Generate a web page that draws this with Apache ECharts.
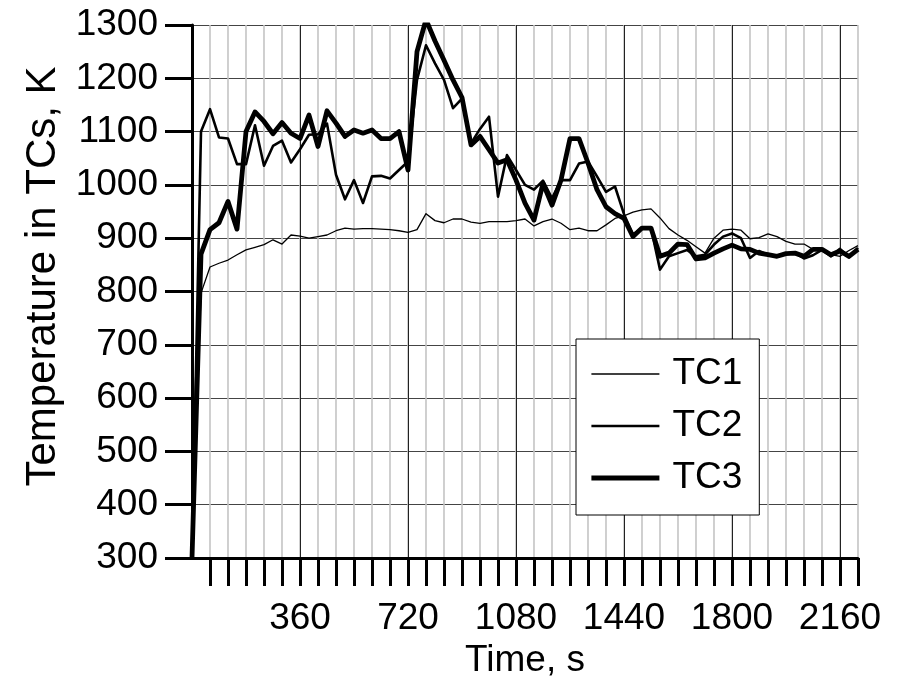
<!DOCTYPE html>
<html>
<head>
<meta charset="utf-8">
<script src="https://cdn.jsdelivr.net/npm/echarts@6/dist/echarts.min.js"></script>
<style>
  html, body { margin: 0; padding: 0; background: #fff; }
  #chart { width: 898px; height: 689px; }
</style>
</head>
<body>
<div id="chart"></div>
<script>
// Sampling times, s (every 30 s)
const times = [
  0, 30, 60, 90, 120, 150, 180, 210, 240, 270, 300, 330, 360, 390, 420, 450, 480, 510, 540, 570,
  600, 630, 660, 690, 720, 750, 780, 810, 840, 870, 900, 930, 960, 990, 1020, 1050, 1080, 1110, 1140, 1170,
  1200, 1230, 1260, 1290, 1320, 1350, 1380, 1410, 1440, 1470, 1500, 1530, 1560, 1590, 1620, 1650, 1680, 1710, 1740, 1770,
  1800, 1830, 1860, 1890, 1920, 1950, 1980, 2010, 2040, 2070, 2100, 2130, 2160, 2190, 2220
];

// Thermocouple readings, K
const tc1 = [
  300, 797, 846, 853, 859, 869, 878, 883, 888, 897, 889, 906, 904, 900, 903, 906, 914, 919, 917, 918,
  918, 917, 916, 914, 911, 916, 946, 933, 929, 936, 936, 930, 928, 931, 931, 931, 933, 936, 923, 931,
  936, 928, 916, 919, 914, 914, 925, 937, 942, 949, 953, 955, 938, 918, 906, 896, 884, 872, 900, 915,
  917, 915, 899, 901, 908, 903, 894, 889, 889, 879, 879, 869, 866, 877, 886
];
const tc2 = [
  300, 1100, 1142, 1089, 1087, 1039, 1039, 1112, 1036, 1073, 1083, 1042, 1067, 1094, 1095, 1115, 1019, 973, 1009, 966,
  1016, 1017, 1012, 1028, 1044, 1197, 1262, 1228, 1197, 1144, 1162, 1078, 1105, 1128, 978, 1056, 1028, 1000, 991, 1008,
  975, 1009, 1009, 1040, 1044, 1016, 987, 997, 945, 907, 919, 919, 841, 866, 872, 878, 866, 869, 888, 903,
  909, 900, 863, 876, 869, 866, 871, 872, 862, 868, 878, 866, 880, 864, 882
];
const tc3 = [
  300, 870, 916, 929, 969, 917, 1100, 1137, 1119, 1096, 1117, 1097, 1087, 1131, 1072, 1139, 1116, 1091, 1103, 1097,
  1103, 1087, 1087, 1100, 1028, 1250, 1310, 1270, 1234, 1197, 1164, 1075, 1091, 1066, 1041, 1047, 1009, 966, 934, 1003,
  962, 1009, 1087, 1087, 1041, 991, 959, 946, 937, 903, 919, 919, 866, 872, 889, 888, 861, 863, 872, 880,
  887, 880, 879, 872, 869, 866, 871, 872, 866, 879, 879, 869, 876, 866, 879
];

const seriesNames = ['TC1', 'TC2', 'TC3'];
const seriesValues = [tc1, tc2, tc3];
const seriesWidths = [1.3, 2.6, 4.8];

// Labelled time ticks, s
const timeLabels = [360, 720, 1080, 1440, 1800, 2160];

// Tick marks below the time axis every 60 s (none at the origin)
const timeTicks = [];
for (let t = 60; t <= 2220; t += 60) timeTicks.push(t);

const FONT = '"Liberation Sans", Arial, sans-serif';

const chart = echarts.init(document.getElementById('chart'));

const series = seriesNames.map((name, k) => ({
  name: name,
  type: 'line',
  xAxisIndex: 0,
  yAxisIndex: 0,
  symbol: 'none',
  smooth: false,
  z: 3 + k,
  lineStyle: { color: '#000', width: seriesWidths[k], join: 'round' },
  itemStyle: { color: '#000' },
  data: times.map((t, i) => [t, seriesValues[k][i]])
}));

chart.setOption({
  animation: false,
  backgroundColor: '#fff',
  textStyle: { fontFamily: FONT, color: '#000' },
  grid: { left: 192, top: 25, right: 40, bottom: 131, containLabel: false },
  xAxis: [
    {
      type: 'value',
      min: 0,
      max: 2220,
      interval: 60,
      name: 'Time, s',
      nameLocation: 'middle',
      nameGap: 74,
      nameTextStyle: { fontSize: 37, color: '#000', fontFamily: FONT },
      axisLine: { show: true, onZero: false, lineStyle: { color: '#000', width: 3 } },
      axisTick: {
        show: true,
        inside: false,
        length: 28,
        customValues: timeTicks,
        lineStyle: { color: '#000', width: 3 }
      },
      axisLabel: {
        fontSize: 37,
        color: '#000',
        fontFamily: FONT,
        margin: 42,
        customValues: timeLabels,
        formatter: v => String(v)
      },
      splitLine: { show: true, lineStyle: { color: '#c4c4c4', width: 1.6 } }
    },
    {
      // coarse grid every 360 s
      type: 'value',
      min: 0,
      max: 2220,
      interval: 360,
      position: 'bottom',
      axisLine: { show: false },
      axisTick: { show: false },
      axisLabel: { show: false },
      splitLine: { show: true, showMinLine: false, showMaxLine: false, lineStyle: { color: '#222', width: 1 } }
    }
  ],
  yAxis: {
    type: 'value',
    min: 300,
    max: 1300,
    interval: 100,
    name: 'Temperature in TCs, K',
    nameLocation: 'middle',
    nameGap: 127,
    nameTextStyle: { fontSize: 42, color: '#000', fontFamily: FONT, padding: [0, 0, 0, 30] },
    axisLine: { show: true, onZero: false, lineStyle: { color: '#000', width: 3 } },
    axisTick: { show: true, inside: false, length: 27, lineStyle: { color: '#000', width: 3 } },
    axisLabel: { fontSize: 37, color: '#000', fontFamily: FONT, margin: 34, formatter: v => String(v) },
    splitLine: { show: true, lineStyle: { color: '#444', width: 1 } }
  },
  legend: {
    data: seriesNames.map((name, k) => ({
      name: name,
      lineStyle: { color: '#000', width: seriesWidths[k] }
    })),
    orient: 'vertical',
    left: 576,
    top: 339,
    backgroundColor: '#fff',
    borderColor: '#000',
    borderWidth: 1,
    padding: [16, 17, 18, 13],
    itemWidth: 68,
    itemHeight: 38,
    itemGap: 14,
    itemStyle: { opacity: 0 },
    textStyle: { fontSize: 37, color: '#000', fontFamily: FONT, lineHeight: 38, padding: [0, 0, 0, 8] }
  },
  series: series
});
</script>
</body>
</html>
